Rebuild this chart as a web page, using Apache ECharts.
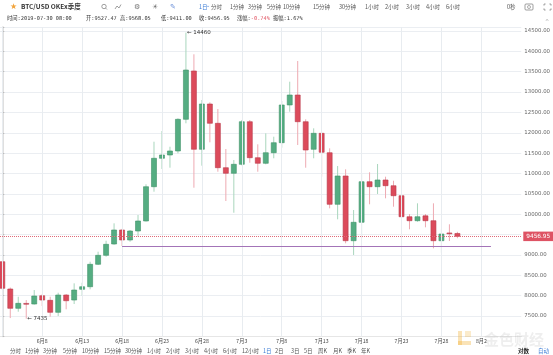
<!DOCTYPE html>
<html><head><meta charset="utf-8">
<script src="https://cdn.jsdelivr.net/npm/echarts@6/dist/echarts.min.js"></script>
<style>html,body{margin:0;padding:0;background:#fff;}#c{width:553px;height:355px;}</style>
</head><body><div id="c"></div>
<script>
// Candle dates (x index = position in this list, 2019-06-03 .. 2019-07-30)
const dates = ['06-03','06-04','06-05','06-06','06-07','06-08','06-09','06-10','06-11','06-12',
 '06-13','06-14','06-15','06-16','06-17','06-18','06-19','06-20','06-21','06-22',
 '06-23','06-24','06-25','06-26','06-27','06-28','06-29','06-30','07-01','07-02',
 '07-03','07-04','07-05','07-06','07-07','07-08','07-09','07-10','07-11','07-12',
 '07-13','07-14','07-15','07-16','07-17','07-18','07-19','07-20','07-21','07-22',
 '07-23','07-24','07-25','07-26','07-27','07-28','07-29','07-30'];
const opens = [8834,8164,7689,7810,7795,7999,7886,7591,8016,7893,
 8156,8220,8770,8991,9269,9613,9367,9588,9834,10676,
 11374,11455,11553,12331,13518,11595,12707,12233,11143,11005,
 11226,12272,11388,11251,11511,11757,12683,12928,12272,11595,
 11987,11511,10244,10939,9350,9802,10799,10676,10841,10700,
 10455,9939,9841,9960,9841,9350,9540,9527.47];
const closes = [8181,7689,7812,7790,7992,7893,7591,8016,7876,8139,
 8220,8770,8991,9261,9613,9367,9588,9834,10676,11374,
 11455,11553,12331,13542,11595,12707,12233,11143,11005,11226,
 12272,11388,11251,11511,11757,12683,12928,12272,11577,11987,
 11521,10244,10939,9350,9802,10799,10676,10841,10701,10455,
 9939,9841,9939,9841,9350,9514,9527,9456.95];
const lows = [8150,7450,7606,7435,7780,7746,7483,7500,7665,7795,
 7999,8156,8753,8957,9250,9220,9325,9448,9820,10553,
 11111,11143,11496,12233,10651,11192,11766,11044,10325,10037,
 11200,11265,11044,11226,11374,11634,12518,11700,11143,11374,
 10922,10145,9875,9286,8999,9409,10244,10497,10391,10185,
 9875,9630,9816,9679,9163,9055,9342,9411];
const highs = [8850,8200,7974,7893,8139,8040,7974,8073,8040,8303,
 8318,8834,9080,9350,9777,9640,9613,9981,10735,11781,
 12044,11658,12356,14460,13928,12805,12749,12584,11602,11332,
 12314,12314,11717,11987,11904,12781,13255,13763,12331,12110,
 12000,11619,11184,11103,10104,10988,11030,11234,10922,10823,
 10470,10006,10268,10006,10268,9630,9753,9568.05];
const xTickValues = [5,10,15,20,25,30,35,40,45,50,55,60];
const xTickLabels = ['6月8','6月13','6月18','6月23','6月28','7月3','7月8','7月13','7月18','7月23','7月28','8月2'];
const xGridValues = [0,5,10,15,20,25,30,35,40,45,50,55,60];
const lastPrice = 9456.95;
const supportLevel = 9215;
const supportStart = 15, supportEnd = 61.2;
const maxMark = {x: 23, v: 14460};
const minMark = {x: 3, v: 7435};
const topTimeframes = [['分时',211],['1分钟',230],['3分钟',248],['5分钟',267],['10分钟',283],['15分钟',313],['30分钟',339],['1小时',365],['2小时',385],['3小时',406],['4小时',426],['6小时',446]];
const bottomTimeframes = [['分时',10],['1分钟',25],['3分钟',43],['5分钟',63],['10分钟',82],['15分钟',104],['30分钟',125],['1小时',147],['2小时',166],['3小时',185],['4小时',204],['6小时',223],['12小时',242],['1日',263],['2日',275],['3日',291],['5日',304],['周K',318],['月K',333],['季K',347],['年K',361]];

const candleData = dates.map((d,i)=>[i, opens[i], closes[i], lows[i], highs[i]]);

const UP = '#55ad82', UP_B = '#3f9268', UP_W = '#a9d6bd';
const DN = '#dc4b5b', DN_B = '#b9394a', DN_W = '#eeaab2';
const FONT = '"Noto Sans CJK SC", "DejaVu Sans", sans-serif';
const MONO = '"DejaVu Sans Mono", "Noto Sans CJK SC", monospace';

function t(text, x, y, opt) {
  return Object.assign({type:'text', x:x, y:y, z:100, style:Object.assign({text:text, fill:'#555', font:'5.5px ' + FONT, textVerticalAlign:'middle'}, opt||{})});
}
const g = [];
g.push(t('★', 10, 7, {fill:'#f2a33a', font:'8px "DejaVu Sans"'}));
g.push(t('BTC/USD OKEx季度', 21, 7, {fill:'#333', font:'bold 6.5px ' + FONT}));
g.push({type:'circle', z:100, shape:{cx:104, cy:6.5, r:2.2}, style:{fill:'none', stroke:'#777', lineWidth:0.7}});
g.push({type:'line', z:100, shape:{x1:105.6, y1:8.1, x2:107, y2:9.5}, style:{stroke:'#777', lineWidth:0.7}});
g.push({type:'polyline', z:100, shape:{points:[[115,9],[117,6],[119,8],[121,4.5]]}, style:{fill:'none', stroke:'#777', lineWidth:0.7}});
g.push(t('⚙', 134, 7, {fill:'#777', font:'7px "DejaVu Sans"'}));
g.push(t('☀', 152, 7, {fill:'#777', font:'7px "DejaVu Sans"'}));
g.push(t('✎', 170, 7, {fill:'#6a8fd8', font:'7px "DejaVu Sans"'}));
g.push(t('1日', 199, 7, {fill:'#3a7bd5'}));
g.push(t('⌄', 206, 6, {fill:'#3a7bd5', font:'5px "DejaVu Sans"'}));
topTimeframes.forEach(a => g.push(t(a[0], a[1], 7)));
g.push(t('0秒', 507, 7));
g.push({type:'rect', z:100, shape:{x:525, y:4, width:8, height:6, r:1}, style:{fill:'none', stroke:'#777', lineWidth:0.7}});
g.push({type:'circle', z:100, shape:{cx:529, cy:7, r:1.5}, style:{fill:'none', stroke:'#777', lineWidth:0.6}});
[[544,4,1,1],[551,4,-1,1],[544,10,1,-1],[551,10,-1,-1]].forEach(p => g.push({type:'polyline', z:100, shape:{points:[[p[0],p[1]+1.6*p[3]],[p[0],p[1]],[p[0]+1.6*p[2],p[1]]]}, style:{fill:'none', stroke:'#777', lineWidth:0.7}}));
g.push(t('时间:2019-07-30 08:00', 7, 18.5, {fill:'#333', font:'5.3px ' + MONO}));
g.push(t('开:9527.47', 86, 18.5, {fill:'#333', font:'5.3px ' + MONO}));
g.push(t('高:9568.05', 120, 18.5, {fill:'#333', font:'5.3px ' + MONO}));
g.push(t('低:9411.00', 161, 18.5, {fill:'#333', font:'5.3px ' + MONO}));
g.push(t('收:9456.95', 199, 18.5, {fill:'#333', font:'5.3px ' + MONO}));
g.push({type:'text', x:237, y:18.5, z:100, style:{rich:{a:{fill:'#333', font:'5.3px ' + MONO},b:{fill:'#e0505f', font:'5.3px ' + MONO}}, text:'{a|涨幅:}{b|-0.74%}', textVerticalAlign:'middle'}});
g.push(t('振幅:1.67%', 273, 18.5, {fill:'#333', font:'5.3px ' + MONO}));
g.push(t('^', 545, 22, {fill:'#999', font:'5px "DejaVu Sans"'}));
bottomTimeframes.forEach(a => g.push(t(a[0], a[1], 351, {fill: a[0]==='1日' ? '#3a7bd5' : '#555'})));
g.push(t('对数', 518, 351, {fill:'#222', font:'bold 5.5px ' + FONT}));
g.push(t('自动', 538, 351, {fill:'#3a7bd5'}));
g.push({type:'rect', z:90, shape:{x:458, y:331, width:4, height:14}, style:{fill:'rgba(240,175,50,0.35)'}});
g.push({type:'rect', z:90, shape:{x:458, y:341, width:13, height:4}, style:{fill:'rgba(240,175,50,0.35)'}});
g.push({type:'rect', z:90, shape:{x:465, y:331, width:6, height:6}, style:{fill:'rgba(240,175,50,0.25)'}});
g.push(t('金色财经', 484, 339, {fill:'rgba(150,150,150,0.16)', font:'bold 15px ' + FONT}));

const chart = echarts.init(document.getElementById('c'), null, {renderer:'canvas'});
chart.setOption({
  animation:false,
  backgroundColor:'#fff',
  grid:{left:0, right:30.7, top:27, bottom:18.6, containLabel:false},
  xAxis:{type:'value', min:-0.2875, max:65,
    axisLine:{show:true, lineStyle:{color:'#e6e6e6'}}, axisTick:{show:false},
    splitLine:{show:false},
    axisLabel:{customValues:xTickValues, margin:2, color:'#444', fontSize:5.2, fontFamily:FONT, hideOverlap:false,
      formatter:function(v){ const i = xTickValues.indexOf(Math.round(v)); return i >= 0 ? xTickLabels[i] : ''; }}},
  yAxis:{type:'value', position:'right', min:7000, max:14598, interval:500,
    axisLine:{show:true, lineStyle:{color:'#d4d4d4', width:1.5}},
    axisTick:{show:true, length:2, lineStyle:{color:'#bbb'}},
    splitLine:{show:true, lineStyle:{color:'#ebeef2', width:1}},
    axisLabel:{margin:3, color:'#666', fontSize:5.4, fontFamily:'"DejaVu Sans", sans-serif',
      formatter:function(v){ return (v%500===0 && v>7000 && v<=14500) ? v.toFixed(2) : ''; }}},
  graphic:{elements:g},
  series:[{
    type:'line', data:[], z:1, silent:true,
    markLine:{silent:true, symbol:['none','none'], animation:false, label:{show:false},
      lineStyle:{color:'#e8ecf0', type:'solid', width:1},
      data: xGridValues.map(v => ({xAxis:v}))}
  },{
    type:'custom',
    z:2,
    data:candleData,
    encode:{x:0, y:[1,2,3,4]},
    clip:true,
    renderItem:function(params, api){
      const x = api.value(0), o = api.value(1), c = api.value(2), l = api.value(3), h = api.value(4);
      const pO = api.coord([x,o]), pC = api.coord([x,c]), pL = api.coord([x,l]), pH = api.coord([x,h]);
      const up = c >= o, w = 5;
      const top = Math.min(pO[1], pC[1]), bot = Math.max(pO[1], pC[1]);
      return {type:'group', children:[
        {type:'line', shape:{x1:pH[0], y1:pH[1], x2:pL[0], y2:pL[1]}, style:{stroke: up?UP_W:DN_W, lineWidth:1}},
        {type:'rect', shape:{x:pO[0]-w/2, y:top, width:w, height:Math.max(bot-top,0.8)}, style:{fill: up?UP:DN, stroke: up?UP_B:DN_B, lineWidth:0.6}}
      ]};
    },
    markLine:{silent:true, symbol:['none','none'], animation:false,
      data:[
        {yAxis:lastPrice, lineStyle:{color:'#e06a78', type:'dotted', width:1},
          label:{show:true, position:'end', distance:2, formatter:lastPrice.toFixed(2), color:'#fff', backgroundColor:'#de5364', padding:[2,3,1.5,3], fontSize:5.8, fontFamily:'"DejaVu Sans", sans-serif'}},
        [{coord:[supportStart, supportLevel], lineStyle:{color:'#a374b8', type:'solid', width:1}, label:{show:false}}, {coord:[supportEnd, supportLevel]}]
      ]},
    markPoint:{symbol:'circle', symbolSize:0, animation:false,
      label:{show:true, position:'right', distance:1, color:'#333', fontSize:5.5, fontFamily:'"DejaVu Sans", sans-serif'},
      data:[
        {coord:[maxMark.x, maxMark.v], value:maxMark.v, label:{formatter:'← ' + maxMark.v}},
        {coord:[minMark.x, minMark.v], value:minMark.v, label:{formatter:'← ' + minMark.v}}
      ]}
  }]
});
</script></body></html>
